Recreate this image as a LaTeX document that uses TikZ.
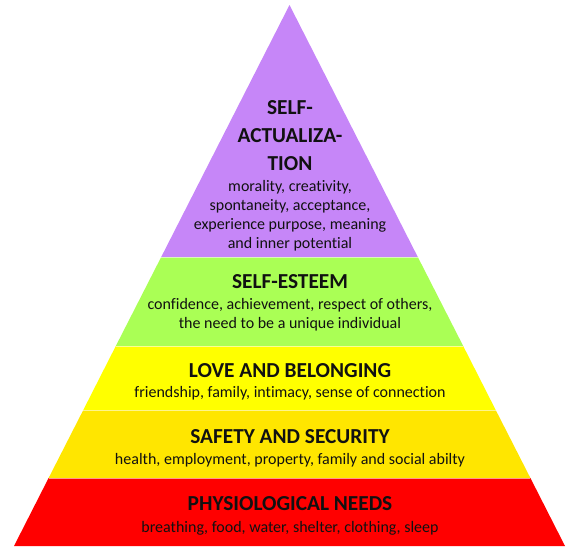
\documentclass[tikz,border=0pt]{standalone}
\usepackage{fontspec}
\setmainfont{Carlito}[Ligatures={NoCommon}]
\usetikzlibrary{calc}
\definecolor{ink}{HTML}{111111}
\definecolor{tierself}{HTML}{C686F8}
\definecolor{tieresteem}{HTML}{AAFF55}
\definecolor{tierlove}{HTML}{FFFF00}
\definecolor{tiersafe}{HTML}{FFE600}
\definecolor{tierbody}{HTML}{FF0000}
\tikzset{
  tier/.style={draw=none},
  seam/.style={draw=white, opacity=0.55, line width=0.6pt},
  %
  head/.style={font=\fontsize{16}{21}\selectfont\bfseries, text=ink,
               align=center, inner sep=0pt},
  body/.style={font=\fontsize{12}{14.2}\selectfont, text=ink,
               align=center, inner sep=0pt},
}
\begin{document}
\begin{tikzpicture}[x=0.75pt, y=-0.75pt]

  \useasboundingbox (0,0) rectangle (574,553);

  % tiers, bottom to top
  \fill[tierbody]   (14,546) -- (565,546) -- (530.4,478) -- (48.6,478) -- cycle;
  \fill[tiersafe]   (48.6,478) -- (530.4,478) -- (495.7,410) -- (83.3,410) -- cycle;
  \fill[tierlove]   (83.3,410) -- (495.7,410) -- (463.2,346) -- (115.8,346) -- cycle;
  \fill[tieresteem] (115.8,346) -- (463.2,346) -- (417.8,257) -- (161.2,257) -- cycle;
  \fill[tierself]   (161.2,257) -- (417.8,257) -- (289.5,5) -- cycle;

  % seams between tiers
  \draw[seam] (48.6,478) -- (530.4,478);
  \draw[seam] (83.3,410) -- (495.7,410);
  \draw[seam] (115.8,346) -- (463.2,346);
  \draw[seam] (161.2,257) -- (417.8,257);

  % self-actualization
  \node[head] (selfh) at (290,136) {SELF-\\ACTUALIZA-\\TION};
  \node[body] (selfb) at (290,216)
    {morality, creativity,\\spontaneity, acceptance,\\experience purpose, meaning\\and inner potential};

  % self-esteem
  \node[head] (esteemh) at (290,282) {SELF-ESTEEM};
  \node[body] (esteemb) at (290,315)
    {confidence, achievement, respect of others,\\the need to be a unique individual};

  % love and belonging
  \node[head] (loveh) at (290,371) {LOVE AND BELONGING};
  \node[body] (loveb) at (290,393) {friendship, family, intimacy, sense of connection};

  % safety and security
  \node[head] (safeh) at (290,437) {SAFETY AND SECURITY};
  \node[body] (safeb) at (290,460) {health, employment, property, family and social abilty};

  % physiological needs
  \node[head] (bodyh) at (290,504) {PHYSIOLOGICAL NEEDS};
  \node[body] (bodyb) at (290,528) {breathing, food, water, shelter, clothing, sleep};

\end{tikzpicture}
\end{document}
